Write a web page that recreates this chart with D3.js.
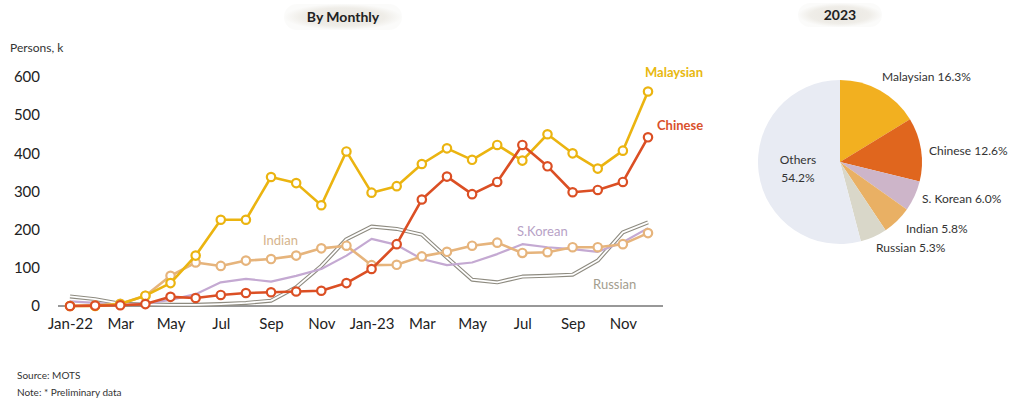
<!DOCTYPE html>
<html>
<head>
<meta charset="utf-8">
<script src="https://cdn.jsdelivr.net/npm/d3@7"></script>
<style>
  html, body { margin: 0; padding: 0; background: #fff; }
  svg { display: block; font-family: Lato, "Open Sans", sans-serif; }
</style>
</head>
<body>
<svg id="chart" width="1023" height="402"></svg>
<script>
// Monthly arrivals, thousands of persons, Jan-22 .. Dec-23
const months = ["Jan-22","Feb","Mar","Apr","May","Jun","Jul","Aug","Sep","Oct","Nov","Dec",
                "Jan-23","Feb","Mar","Apr","May","Jun","Jul","Aug","Sep","Oct","Nov","Dec"];
const malaysian = [0, 0, 5, 27, 60, 132, 226, 226, 338, 322, 264, 405, 297, 314, 372, 413, 383, 422, 381, 450, 400, 360, 407, 562];
const chinese   = [0, 1, 2, 5, 24, 21, 29, 34, 36, 38, 40, 60, 97, 162, 279, 339, 293, 325, 422, 366, 298, 304, 325, 442];
const indian    = [0, 2, 6, 27, 79, 114, 105, 119, 123, 132, 151, 158, 107, 108, 130, 142, 158, 166, 139, 141, 154, 154, 162, 191];
const sKorean   = [12, 8, 3, 6, 16, 31, 62, 71, 64, 79, 97, 132, 176, 160, 123, 107, 114, 136, 162, 154, 149, 142, 167, 204];
const russian   = [25, 18, 6, 4, 3, 3, 5, 8, 14, 49, 105, 175, 208, 202, 187, 127, 69, 62, 77, 79, 82, 119, 193, 219];

const yTicks = [0, 100, 200, 300, 400, 500, 600];
const xTickIdx = [0, 2, 4, 6, 8, 10, 12, 14, 16, 18, 20, 22];
const xTickLabels = ["Jan-22","Mar","May","Jul","Sep","Nov","Jan-23","Mar","May","Jul","Sep","Nov"];

// 2023 share of arrivals, %
const pieNames  = ["Malaysian", "Chinese", "S. Korean", "Indian", "Russian", "Others"];
const pieShares = [16.3, 12.6, 6.0, 5.8, 5.3, 54.2];

const svg = d3.select("#chart");

// ---- Section titles (pill-shaped boxes) ----
const defs = svg.append("defs");
const grad = defs.append("radialGradient").attr("id", "pill");
grad.append("stop").attr("offset", "0%").attr("stop-color", "#e9e6e0");
grad.append("stop").attr("offset", "70%").attr("stop-color", "#efede8");
grad.append("stop").attr("offset", "100%").attr("stop-color", "#fbfbfa");

function pill(cx, cy, w, h, text) {
  svg.append("rect").attr("x", cx - w / 2).attr("y", cy - h / 2)
    .attr("width", w).attr("height", h).attr("rx", h / 2)
    .attr("fill", "url(#pill)");
  svg.append("text").attr("x", cx).attr("y", cy + 5)
    .attr("text-anchor", "middle").attr("font-size", 14).attr("font-weight", "bold")
    .attr("fill", "#222").text(text);
}
pill(343, 17, 118, 26, "By Monthly");
pill(840, 15, 84, 24, "2023");

// ---- Line chart ----
const x = d3.scaleLinear().domain([0, months.length - 1]).range([70, 648]);
const y = d3.scaleLinear().domain([0, 600]).range([306, 77]);

svg.append("text").attr("x", 10).attr("y", 52).attr("font-size", 12)
  .attr("fill", "#333").text("Persons, k");

const yAxis = svg.append("g").attr("transform", "translate(40,0)")
  .call(d3.axisLeft(y).tickValues(yTicks).tickSize(0).tickPadding(0));
yAxis.select(".domain").remove();
yAxis.selectAll("text").attr("font-size", 15).attr("fill", "#222")
  .attr("font-family", "Lato, 'Open Sans', sans-serif");

const xAxis = svg.append("g").attr("transform", `translate(0,${y(0)})`)
  .call(d3.axisBottom(x).tickValues(xTickIdx).tickSize(0).tickPadding(12)
    .tickFormat((d, i) => xTickLabels[i]));
xAxis.select(".domain").remove();
xAxis.selectAll("text").attr("font-size", 15).attr("fill", "#222")
  .attr("font-family", "Lato, 'Open Sans', sans-serif");
svg.append("line").attr("x1", 58).attr("x2", 663)
  .attr("y1", y(0)).attr("y2", y(0)).attr("stroke", "#333").attr("stroke-width", 1.2);

const line = d3.line().x((d, i) => x(i)).y(d => y(d));

// Russian: hollow double line
svg.append("path").datum(russian).attr("d", line).attr("fill", "none")
  .attr("stroke", "#8e8b80").attr("stroke-width", 4).attr("stroke-linejoin", "round");
svg.append("path").datum(russian).attr("d", line).attr("fill", "none")
  .attr("stroke", "#ffffff").attr("stroke-width", 1.8).attr("stroke-linejoin", "round");

// S. Korean: plain line
svg.append("path").datum(sKorean).attr("d", line).attr("fill", "none")
  .attr("stroke", "#c4a9d2").attr("stroke-width", 2.2).attr("stroke-linejoin", "round");

function markedSeries(data, color) {
  svg.append("path").datum(data).attr("d", line).attr("fill", "none")
    .attr("stroke", color).attr("stroke-width", 2.6).attr("stroke-linejoin", "round");
  svg.append("g").selectAll("circle").data(data).join("circle")
    .attr("cx", (d, i) => x(i)).attr("cy", d => y(d)).attr("r", 4.2)
    .attr("fill", "#fff").attr("stroke", color).attr("stroke-width", 2.2);
}
markedSeries(indian, "#e6b47c");
markedSeries(malaysian, "#ebb410");
markedSeries(chinese, "#db4f24");

// Series labels
const labels = [
  { t: "Malaysian", x: 645, y: 77, c: "#e8b810", w: "bold" },
  { t: "Chinese",   x: 657, y: 130, c: "#d9512c", w: "bold" },
  { t: "Indian",    x: 263, y: 245, c: "#d6b48c", w: "normal" },
  { t: "S.Korean",  x: 517, y: 236, c: "#b7a2c6", w: "normal" },
  { t: "Russian",   x: 593, y: 289, c: "#a39d8e", w: "normal" }
];
svg.append("g").selectAll("text").data(labels).join("text")
  .attr("x", d => d.x).attr("y", d => d.y).attr("font-size", 13)
  .attr("font-weight", d => d.w).attr("fill", d => d.c).text(d => d.t);

// Footnotes
svg.append("text").attr("x", 17).attr("y", 379).attr("font-size", 10).attr("fill", "#333").text("Source: MOTS");
svg.append("text").attr("x", 17).attr("y", 396).attr("font-size", 10).attr("fill", "#333").text("Note: * Preliminary data");

// ---- Pie chart ----
const pieColors = ["#f2b020", "#e0661e", "#cdb5c9", "#e9b064", "#d9d7c9", "#e8ebf3"];
const pie = d3.pie().sort(null).value(d => d)(pieShares);
const arc = d3.arc().innerRadius(0).outerRadius(82);
const pg = svg.append("g").attr("transform", "translate(840,162)");
pg.selectAll("path").data(pie).join("path")
  .attr("d", arc).attr("fill", (d, i) => pieColors[i]);

const pieLabels = [
  { x: 882, y: 81 },
  { x: 929, y: 155 },
  { x: 922, y: 203 },
  { x: 906, y: 233 },
  { x: 876, y: 252 }
];
svg.append("g").selectAll("text").data(pieLabels).join("text")
  .attr("x", d => d.x).attr("y", d => d.y).attr("font-size", 12).attr("fill", "#333")
  .text((d, i) => `${pieNames[i]} ${pieShares[i].toFixed(1)}%`);
svg.append("text").attr("x", 798).attr("y", 164).attr("text-anchor", "middle")
  .attr("font-size", 12).attr("fill", "#333").text(pieNames[5]);
svg.append("text").attr("x", 798).attr("y", 182).attr("text-anchor", "middle")
  .attr("font-size", 12).attr("fill", "#333").text(`${pieShares[5].toFixed(1)}%`);
</script>
</body>
</html>
